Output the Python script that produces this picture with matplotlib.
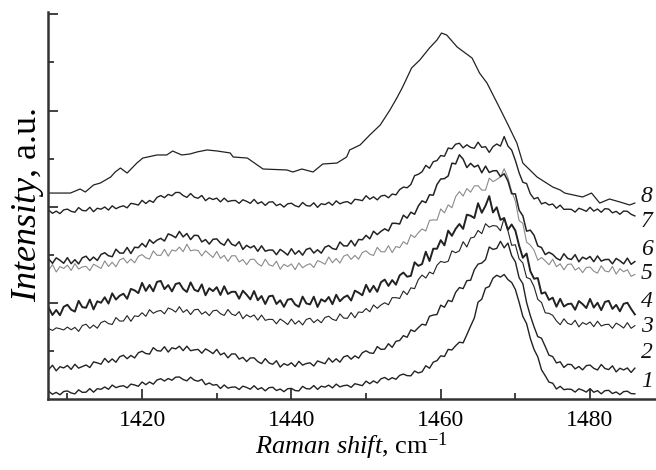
import numpy as np
import matplotlib
matplotlib.use("Agg")
import matplotlib.pyplot as plt

plt.rcParams['font.family'] = ['Liberation Serif', 'DejaVu Serif']
plt.rcParams['mathtext.fontset'] = 'custom'
plt.rcParams['mathtext.rm'] = 'Liberation Serif'
plt.rcParams['mathtext.it'] = 'Liberation Serif:italic'

# Raman shift sampling grid (cm^-1)
raman_shift = np.arange(1407.5, 1486.01, 0.5)

spec1 = [8.0, 4.9, 6.9, 4.4, 7.8, 8.4, 6.3, 5.3, 9.5, 6.9,
         7.1, 10.8, 7.1, 10.7, 10.1, 12.5, 10.1, 14.5, 11.8, 13.2,
         13.8, 11.6, 15.5, 14.6, 13.2, 17.7, 14.9, 17.7, 15.4, 19.8,
         21.1, 18.7, 21.3, 19.5, 22.7, 22.9, 20.3, 18.9, 22.7, 19.6,
         18.5, 20.4, 14.9, 16.7, 14.4, 15.0, 10.9, 14.6, 11.3, 12.3,
         12.5, 9.9, 13.4, 12.0, 10.2, 13.8, 10.0, 11.8, 8.5, 11.8,
         12.2, 8.8, 10.4, 7.6, 10.7, 11.0, 8.8, 8.4, 13.2, 10.7,
         10.5, 14.0, 10.0, 13.3, 12.4, 14.4, 11.5, 15.5, 12.6, 13.9,
         14.4, 12.1, 15.9, 14.9, 13.9, 18.6, 15.9, 18.8, 16.6, 21.0,
         22.4, 19.9, 22.2, 20.5, 24.6, 25.9, 24.3, 24.1, 29.1, 27.1,
         28.3, 34.6, 32.0, 38.3, 39.9, 44.9, 44.2, 51.6, 51.0, 55.4,
         59.1, 58.4, 66.9, 75.8, 84.2, 100.7, 103.8, 115.3, 117.0, 125.6,
         128.7, 126.8, 129.5, 124.2, 121.2, 113.9, 100.6, 85.9, 78.4, 63.0,
         51.5, 43.9, 30.4, 24.2, 17.6, 16.4, 10.4, 13.2, 9.7, 10.3,
         10.0, 7.2, 10.6, 9.2, 7.2, 10.8, 7.0, 8.7, 5.4, 8.7,
         9.0, 5.7, 7.3, 4.6, 7.7, 8.1, 5.6, 5.4]

spec2 = [30.7, 35.1, 29.3, 33.6, 32.3, 34.9, 30.8, 36.1, 32.1, 33.7,
         35.4, 32.7, 38.6, 37.6, 36.2, 42.2, 38.1, 41.7, 38.2, 43.9,
         45.5, 41.9, 45.3, 42.7, 48.1, 49.7, 47.3, 46.7, 53.4, 50.3,
         49.8, 54.4, 48.8, 53.3, 52.1, 54.9, 50.3, 54.9, 50.2, 51.1,
         51.6, 47.6, 52.1, 49.9, 47.2, 51.6, 45.9, 47.9, 42.8, 46.9,
         46.8, 41.5, 43.3, 39.0, 42.7, 42.8, 38.9, 36.8, 42.0, 37.5,
         36.1, 39.8, 33.2, 36.8, 35.0, 37.7, 33.7, 39.2, 35.2, 36.9,
         37.6, 34.3, 39.6, 38.2, 36.7, 42.6, 38.3, 41.8, 38.3, 43.8,
         45.2, 41.4, 44.9, 42.5, 48.1, 50.1, 47.9, 47.5, 54.5, 51.6,
         51.9, 57.5, 53.7, 60.0, 60.9, 65.9, 64.2, 71.9, 70.2, 74.2,
         77.8, 76.8, 86.1, 87.3, 87.9, 97.6, 95.4, 102.6, 101.3, 110.9,
         115.9, 114.8, 123.1, 123.5, 134.4, 140.3, 141.4, 145.0, 158.1, 155.6,
         156.6, 164.0, 157.2, 162.2, 149.1, 142.6, 126.1, 119.9, 100.4, 86.7,
         75.1, 64.9, 63.2, 54.6, 45.6, 44.1, 37.5, 38.7, 32.8, 36.1,
         35.8, 31.3, 33.8, 30.3, 34.7, 35.3, 31.9, 30.2, 35.9, 31.7,
         30.6, 34.5, 28.2, 32.0, 30.2, 32.3, 27.6, 32.1]

spec3 = [73.2, 71.3, 74.0, 73.1, 71.8, 74.8, 72.0, 74.5, 70.3, 76.4,
         77.8, 73.5, 76.9, 73.6, 79.5, 81.1, 78.4, 77.5, 84.7, 81.1,
         81.1, 86.7, 80.8, 86.5, 85.8, 89.7, 86.0, 92.9, 89.1, 91.2,
         92.1, 88.6, 94.6, 93.1, 90.4, 96.0, 90.1, 92.9, 87.8, 92.8,
         93.3, 88.2, 90.8, 86.7, 91.7, 92.4, 88.7, 86.9, 93.1, 88.3,
         86.8, 90.9, 83.5, 87.6, 85.2, 87.4, 82.0, 87.3, 81.8, 82.9,
         82.7, 78.2, 83.2, 80.6, 77.4, 83.1, 77.9, 81.4, 77.0, 82.8,
         84.0, 79.4, 82.6, 79.3, 84.8, 86.1, 82.9, 81.6, 88.5, 84.2,
         83.9, 89.9, 84.5, 90.5, 90.0, 94.1, 90.7, 97.8, 94.3, 97.8,
         100.1, 98.0, 105.4, 105.4, 104.6, 112.3, 108.5, 115.6, 114.8, 124.2,
         128.9, 125.8, 132.0, 130.1, 139.1, 143.1, 142.0, 143.2, 154.1, 152.1,
         154.1, 163.6, 158.1, 167.4, 168.4, 175.3, 172.0, 182.3, 178.7, 180.4,
         179.8, 175.0, 188.3, 175.1, 159.9, 160.4, 145.8, 141.4, 126.4, 124.8,
         116.8, 103.6, 100.4, 89.6, 89.1, 87.0, 81.2, 77.3, 83.4, 78.7,
         77.3, 81.9, 75.0, 79.5, 77.5, 80.1, 75.2, 80.9, 75.9, 77.4,
         77.7, 73.5, 78.9, 76.7, 73.8, 79.4, 73.5, 76.3]

spec4 = [94.7, 87.4, 92.6, 87.1, 95.9, 98.0, 92.9, 90.9, 102.1, 95.5,
         94.9, 103.4, 93.2, 101.6, 100.1, 105.8, 99.2, 109.9, 103.4, 107.4,
         109.5, 104.2, 114.5, 113.0, 110.1, 120.8, 112.4, 118.6, 112.0, 121.8,
         122.8, 114.3, 118.5, 111.9, 119.6, 120.7, 114.4, 111.3, 121.3, 113.7,
         111.9, 119.2, 107.9, 115.2, 112.2, 116.3, 108.2, 117.3, 109.2, 111.5,
         111.5, 104.3, 112.6, 108.5, 103.6, 112.3, 102.7, 107.1, 98.8, 106.8,
         107.5, 98.8, 102.7, 95.8, 103.3, 104.1, 98.3, 95.9, 106.5, 99.4,
         98.4, 106.4, 95.7, 103.7, 101.3, 106.1, 98.6, 108.4, 101.6, 105.6,
         107.7, 102.4, 112.7, 110.6, 107.9, 118.8, 111.3, 117.7, 111.5, 121.5,
         124.2, 117.6, 123.7, 118.9, 128.6, 131.5, 127.2, 128.1, 142.2, 138.5,
         140.3, 153.2, 143.5, 156.3, 156.3, 165.2, 159.8, 175.1, 169.7, 177.0,
         182.0, 176.9, 191.7, 190.6, 188.2, 203.6, 193.7, 201.0, 211.0, 194.0,
         199.4, 186.3, 188.2, 176.0, 181.5, 175.1, 159.5, 146.9, 151.3, 133.0,
         125.1, 125.8, 109.6, 111.0, 103.1, 105.4, 96.0, 104.2, 96.2, 98.7,
         99.2, 92.8, 101.9, 98.7, 94.6, 104.1, 95.1, 100.1, 92.4, 101.0,
         102.1, 93.7, 97.9, 91.2, 99.0, 100.1, 93.7, 88.0]

spec5 = [134.2, 139.9, 132.1, 137.7, 135.8, 139.2, 133.7, 140.8, 135.2, 137.3,
         138.0, 133.5, 140.2, 138.0, 135.8, 143.6, 137.8, 142.3, 137.5, 144.6,
         146.4, 141.4, 145.5, 141.6, 148.4, 150.2, 146.8, 145.6, 154.0, 149.5,
         149.3, 155.7, 148.6, 155.0, 153.8, 158.0, 153.2, 161.0, 154.1, 155.0,
         154.5, 148.8, 154.2, 150.7, 147.2, 153.5, 146.3, 149.4, 143.1, 148.9,
         149.0, 142.5, 145.1, 139.7, 145.1, 145.4, 140.7, 138.2, 145.4, 139.6,
         138.2, 143.3, 135.0, 140.1, 137.7, 140.5, 134.5, 141.5, 136.5, 139.2,
         140.7, 136.8, 144.0, 142.4, 140.1, 147.7, 141.7, 146.1, 141.4, 148.5,
         150.3, 145.2, 149.3, 145.4, 152.3, 154.1, 150.6, 149.3, 157.7, 153.2,
         153.0, 159.4, 152.3, 158.6, 157.4, 163.6, 160.9, 170.8, 168.0, 172.9,
         176.9, 174.7, 185.8, 186.3, 186.0, 197.7, 193.6, 201.9, 198.9, 210.4,
         215.7, 211.1, 218.9, 215.1, 221.6, 221.8, 217.3, 217.2, 229.7, 226.1,
         228.3, 231.0, 239.5, 230.1, 216.1, 205.8, 185.5, 182.6, 163.2, 160.0,
         154.8, 144.4, 147.1, 143.7, 139.6, 145.4, 137.6, 140.6, 134.3, 140.0,
         140.4, 134.0, 136.7, 131.4, 136.8, 137.2, 132.9, 130.9, 138.5, 133.2,
         132.2, 137.8, 129.9, 135.5, 132.3, 134.5, 127.6, 129.5]

spec6 = [145.6, 141.1, 146.8, 144.3, 141.2, 147.0, 140.8, 144.9, 140.5, 146.9,
         148.5, 143.9, 147.6, 144.1, 150.3, 152.1, 149.0, 148.0, 155.8, 151.8,
         151.7, 157.6, 151.3, 157.8, 157.4, 161.8, 158.1, 165.7, 162.0, 165.2,
         167.1, 164.3, 171.7, 170.2, 167.8, 174.3, 168.6, 172.1, 165.8, 170.3,
         170.0, 163.4, 165.8, 161.1, 166.1, 166.5, 162.2, 159.9, 166.4, 161.0,
         159.3, 163.6, 155.6, 159.8, 157.2, 159.3, 153.6, 159.3, 153.7, 154.9,
         154.9, 150.1, 155.6, 152.9, 149.7, 156.3, 150.6, 154.3, 149.6, 155.6,
         156.9, 151.8, 155.2, 151.7, 157.9, 159.6, 156.5, 155.5, 163.3, 159.3,
         159.2, 164.9, 159.2, 165.9, 165.6, 170.2, 166.6, 174.5, 171.0, 174.4,
         177.0, 174.8, 182.8, 182.7, 182.0, 191.2, 188.1, 194.3, 192.1, 200.7,
         206.1, 204.2, 212.4, 212.0, 223.1, 228.8, 229.2, 232.0, 245.3, 244.5,
         254.0, 249.5, 240.7, 245.1, 241.3, 243.2, 235.3, 242.2, 235.6, 237.3,
         237.5, 231.3, 234.3, 226.8, 213.5, 213.3, 196.4, 190.5, 174.6, 175.6,
         170.3, 159.2, 157.5, 150.2, 152.6, 150.4, 146.4, 144.4, 151.1, 146.2,
         145.1, 150.1, 142.7, 147.5, 145.5, 148.2, 142.8, 148.8, 143.4, 145.0,
         145.2, 140.6, 146.2, 143.7, 140.6, 146.5, 140.1, 142.9]

spec7 = [196.4, 193.1, 195.4, 192.8, 196.7, 197.5, 195.2, 194.2, 199.1, 196.1,
         195.7, 199.4, 194.8, 198.4, 197.4, 199.7, 196.5, 200.9, 197.9, 199.8,
         200.9, 198.8, 203.5, 202.8, 201.7, 206.6, 203.3, 206.5, 204.5, 209.7,
         211.6, 209.4, 212.8, 211.4, 214.8, 214.8, 211.6, 209.7, 213.7, 209.9,
         208.8, 211.7, 206.3, 209.2, 207.5, 208.9, 205.0, 208.9, 205.3, 206.3,
         206.5, 203.5, 207.2, 205.6, 203.5, 207.6, 203.2, 205.1, 201.4, 204.8,
         205.1, 201.1, 202.8, 199.6, 203.0, 203.6, 201.0, 199.8, 204.4, 201.2,
         200.6, 204.0, 199.3, 203.1, 202.2, 204.6, 201.5, 206.1, 203.0, 204.6,
         205.3, 202.9, 207.7, 207.2, 206.3, 211.4, 207.8, 210.3, 207.1, 211.1,
         211.9, 209.3, 213.2, 212.3, 217.8, 220.4, 219.7, 223.1, 232.3, 233.7,
         236.3, 243.0, 240.0, 246.8, 248.0, 253.2, 252.5, 261.0, 260.2, 265.0,
         266.0, 261.2, 264.4, 261.7, 260.8, 267.1, 261.7, 262.4, 256.5, 262.4,
         265.2, 263.0, 273.0, 263.1, 258.9, 248.1, 235.2, 225.4, 224.1, 213.5,
         208.1, 209.6, 202.9, 204.4, 201.8, 202.8, 198.4, 201.6, 197.2, 197.4,
         197.2, 194.4, 198.4, 197.0, 195.2, 199.4, 195.4, 197.6, 194.2, 198.0,
         197.5, 193.6, 195.2, 192.1, 195.5, 195.2, 192.1, 190.4]

# Spectrum 8 (smoothed, irregular sampling)
shift8 = [1407.4, 1410.4, 1411.7, 1412.4, 1413.5, 1414.4, 1415.8, 1416.4, 1417.1, 1418.0,
          1419.3, 1420.1, 1422.0, 1423.3, 1424.1, 1425.3, 1426.4, 1427.4, 1428.7, 1430.0,
          1431.8, 1432.2, 1434.1, 1436.2, 1439.4, 1440.2, 1441.4, 1442.9, 1444.2, 1446.1,
          1447.4, 1447.8, 1449.2, 1450.5, 1451.9, 1453.2, 1454.2, 1454.9, 1456.1, 1457.2,
          1458.5, 1459.5, 1460.1, 1460.8, 1462.2, 1464.2, 1465.2, 1466.2, 1467.9, 1468.9,
          1470.2, 1471.0, 1472.9, 1475.0, 1476.0, 1476.6, 1479.0, 1480.2, 1481.3, 1482.6,
          1484.0, 1485.3, 1486.0]
spec8 = [214.2, 214.2, 218.4, 215.3, 222.6, 224.6, 230.9, 236.1, 240.2, 235.0,
         245.4, 250.6, 253.8, 253.8, 257.9, 253.8, 254.8, 257.0, 259.0, 258.0,
         255.9, 251.7, 250.6, 239.2, 238.2, 236.1, 239.2, 236.1, 244.4, 245.4,
         251.7, 259.0, 264.2, 274.6, 285.0, 300.6, 314.2, 324.5, 344.3, 352.6,
         365.1, 373.4, 380.6, 378.6, 366.1, 354.6, 339.0, 328.6, 302.6, 287.0,
         266.2, 245.4, 230.9, 220.5, 217.4, 214.2, 210.1, 214.2, 203.8, 208.0,
         204.9, 201.8, 203.8]

curve_labels = ['1', '2', '3', '4', '5', '6', '7', '8']
label_y = [17.7, 48, 75, 101, 131, 155, 185, 211]

fig = plt.figure(figsize=(6.56, 4.70), dpi=100)
ax = fig.add_axes([48/656, 1-399/470, (655-48)/656, (399-12)/470])

ink = '#222222'
series = [spec1, spec2, spec3, spec4, spec5, spec6, spec7]
widths = [1.0, 1.0, 0.8, 1.4, 0.8, 1.1, 1.0]
colors = [ink, ink, ink, ink, '#8a8a8a', ink, ink]
for s, lw, c in zip(series, widths, colors):
    ax.plot(raman_shift, s, color=c, lw=lw)
ax.plot(shift8, spec8, color=ink, lw=0.9)

for t, yl in zip(curve_labels, label_y):
    ax.text(1487.6, yl, t, fontsize=17, style='italic', ha='center', va='center',
            color='#111111')

ax.set_xlim(1407.4, 1488.7)
ax.set_ylim(0, 402.5)
for sp in ['top', 'right']:
    ax.spines[sp].set_visible(False)
for sp in ['left', 'bottom']:
    ax.spines[sp].set_linewidth(1.8)
    ax.spines[sp].set_color('#333333')

ax.set_xticks([1420, 1440, 1460, 1480])
ax.set_xticks([1410, 1430, 1450, 1470], minor=True)
ax.set_yticks([100, 200, 300, 400])
ax.set_yticks([50, 150, 250, 350], minor=True)
ax.set_yticklabels([])
ax.tick_params(axis='both', which='major', direction='in', length=7, width=1.3,
               color='#333333')
ax.tick_params(axis='both', which='minor', direction='in', length=4, width=1.3,
               color='#333333')
ax.tick_params(axis='x', labelsize=17, pad=8)

fig.text(351/656, 1-446/470, r'$\mathit{Raman\ shift}$, cm$^{-1}$', fontsize=19,
         ha='center', va='center')
fig.text(28/656, 1-205/470, r'$\mathit{Intensity}$, a.u.', fontsize=26,
         ha='center', va='center', rotation=90)

fig.savefig('out.png', dpi=100)
